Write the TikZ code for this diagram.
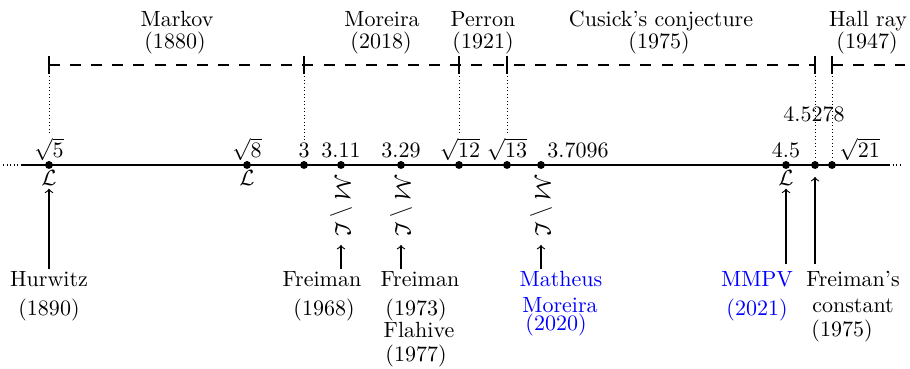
\documentclass[tikz,border=0pt]{standalone}
\usepackage{amsmath,amssymb}
\usetikzlibrary{calc}
\begin{document}
\begin{tikzpicture}[x=0.4545pt,y=-0.4545pt,
  lbl/.style={anchor=base,inner sep=0pt},
  bl/.style={lbl,text=blue},
  pt/.style={circle,fill,inner sep=0pt,minimum size=3.6pt},
  axis/.style={line width=0.7pt},
  dashln/.style={line width=0.55pt,dash pattern=on 5pt off 4.6pt},
  tick/.style={line width=0.55pt},
  dotln/.style={line width=0.45pt,dash pattern=on 0.45pt off 1.15pt},
  arr/.style={->,line width=0.5pt},
  rot/.style={rotate=-90}]
\useasboundingbox (0,0) rectangle (910,369);

% axis
\coordinate (al) at (21,165);
\coordinate (ar) at (889,165);
\coordinate (all) at (3,165);
\coordinate (arr) at (903,165);
\draw[axis] (al) -- (ar);
\draw[dotln,line width=0.6pt] (all) -- (al);
\draw[dotln,line width=0.6pt] (ar) -- (arr);

% points
\node[pt] (p5) at (49,165) {};
\node[pt] (p8) at (247,165) {};
\node[pt] (p3) at (304,165) {};
\node[pt] (p311) at (341,165) {};
\node[pt] (p329) at (401,165) {};
\node[pt] (p12) at (459,165) {};
\node[pt] (p13) at (507,165) {};
\node[pt] (p37) at (541,165) {};
\node[pt] (p45) at (786,165) {};
\node[pt] (pF) at (815,165) {};
\node[pt] (p21) at (832,165) {};

% value labels
\node[lbl] (v5) at (49,158) {$\sqrt{5}$};
\node[lbl] (v8) at (247,158) {$\sqrt{8}$};
\node[lbl] (v3) at (304,158) {$3$};
\node[lbl] (v311) at (341,158) {$3.11$};
\node[lbl] (v329) at (401,158) {$3.29$};
\node[lbl] (v12) at (460,158) {$\sqrt{12}$};
\node[lbl] (v13) at (507,158) {$\sqrt{13}$};
\node[lbl,anchor=base west] (v37) at (547,158) {$3.7096$};
\node[lbl] (v45) at (786,158) {$4.5$};
\node[lbl,anchor=base west] (v21) at (839,158) {$\sqrt{21}$};
\node[lbl] (vF) at (814,122) {$4.5278$};

% dashed upper line
\coordinate (t5) at (49,65);
\coordinate (t3) at (304,65);
\coordinate (t12) at (459,65);
\coordinate (t13) at (507,65);
\coordinate (tF) at (815,65);
\coordinate (t21) at (832,65);
\coordinate (tend) at (905,65);
\draw[dashln] (t5) -- (tF);
\draw[dashln] (t21) -- (tend);
\foreach \t in {t5,t3,t12,t13,tF,t21}
  \draw[tick] ($(\t)+(0,-9)$) -- ($(\t)+(0,9)$);

% dotted verticals
\draw[dotln] ($(t5)+(0,11)$) -- ($(p5)+(0,-32)$);
\draw[dotln] ($(t3)+(0,11)$) -- ($(p3)+(0,-25)$);
\draw[dotln] ($(t12)+(0,11)$) -- ($(p12)+(0,-32)$);
\draw[dotln] ($(t13)+(0,11)$) -- ($(p13)+(0,-32)$);
\draw[dotln] ($(tF)+(0,11)$) -- ($(pF)+(0,-5)$);
\draw[dotln] ($(t21)+(0,11)$) -- ($(p21)+(0,-5)$);

% top labels
\node[lbl] (mk1) at (177,27) {Markov};
\node[lbl] (mk2) at (175,49) {(1880)};
\node[lbl] (mo1) at (382,27) {Moreira};
\node[lbl] (mo2) at (381,49) {(2018)};
\node[lbl] (pe1) at (483,27) {Perron};
\node[lbl] (pe2) at (483,49) {(1921)};
\node[lbl] (cu1) at (661,27) {Cusick's conjecture};
\node[lbl] (cu2) at (659,49) {(1975)};
\node[lbl] (ha1) at (868,27) {Hall ray};
\node[lbl] (ha2) at (867,49) {(1947)};

% L labels
\node[lbl] (L5) at (49,186) {$\mathcal{L}$};
\node[lbl] (L8) at (247,186) {$\mathcal{L}$};
\node[lbl] (L45) at (786,186) {$\mathcal{L}$};

% M \ L rotated
\node[rot] (ml1) at (341,206) {$\mathcal{M}\setminus\mathcal{L}$};
\node[rot] (ml2) at (401,206) {$\mathcal{M}\setminus\mathcal{L}$};
\node[rot] (ml3) at (541,206) {$\mathcal{M}\setminus\mathcal{L}$};

% bottom labels
\node[lbl] (hu1) at (49,287) {Hurwitz};
\node[lbl] (hu2) at (49,316) {(1890)};
\node[lbl] (fa1) at (322,287) {Freiman};
\node[lbl] (fa2) at (324,316) {(1968)};
\node[lbl] (fb1) at (420,287) {Freiman};
\node[lbl] (fb2) at (416,316) {(1973)};
\node[lbl] (fb3) at (419,338) {Flahive};
\node[lbl] (fb4) at (416,362) {(1977)};
\node[bl] (mm1) at (561,287) {Matheus};
\node[bl] (mm2) at (560,313) {Moreira};
\node[bl] (mm3) at (556,331) {(2020)};
\node[bl] (mp1) at (757,287) {MMPV};
\node[bl] (mp2) at (757,316) {(2021)};
\node[lbl] (fc1) at (853,287) {Freiman's};
\node[lbl] (fc2) at (853,313) {constant};
\node[lbl] (fc3) at (842,337) {(1975)};

% arrows
\coordinate (fEnd) at (815,177);
\draw[arr,shorten <=1pt,shorten >=1pt] (hu1.north) -- (L5.south);
\draw[arr,shorten <=1pt] (fa1.north -| p311) -- (ml1.east);
\draw[arr,shorten <=1pt] (fb1.north -| p329) -- (ml2.east);
\draw[arr,shorten <=1pt] (mm1.north -| p37) -- (ml3.east);
\draw[arr,shorten <=3.5pt,shorten >=1pt] (mp1.north -| p45) -- (L45.south);
\draw[arr,shorten <=3.5pt] (fc1.north -| pF) -- (fEnd);
\end{tikzpicture}
\end{document}
